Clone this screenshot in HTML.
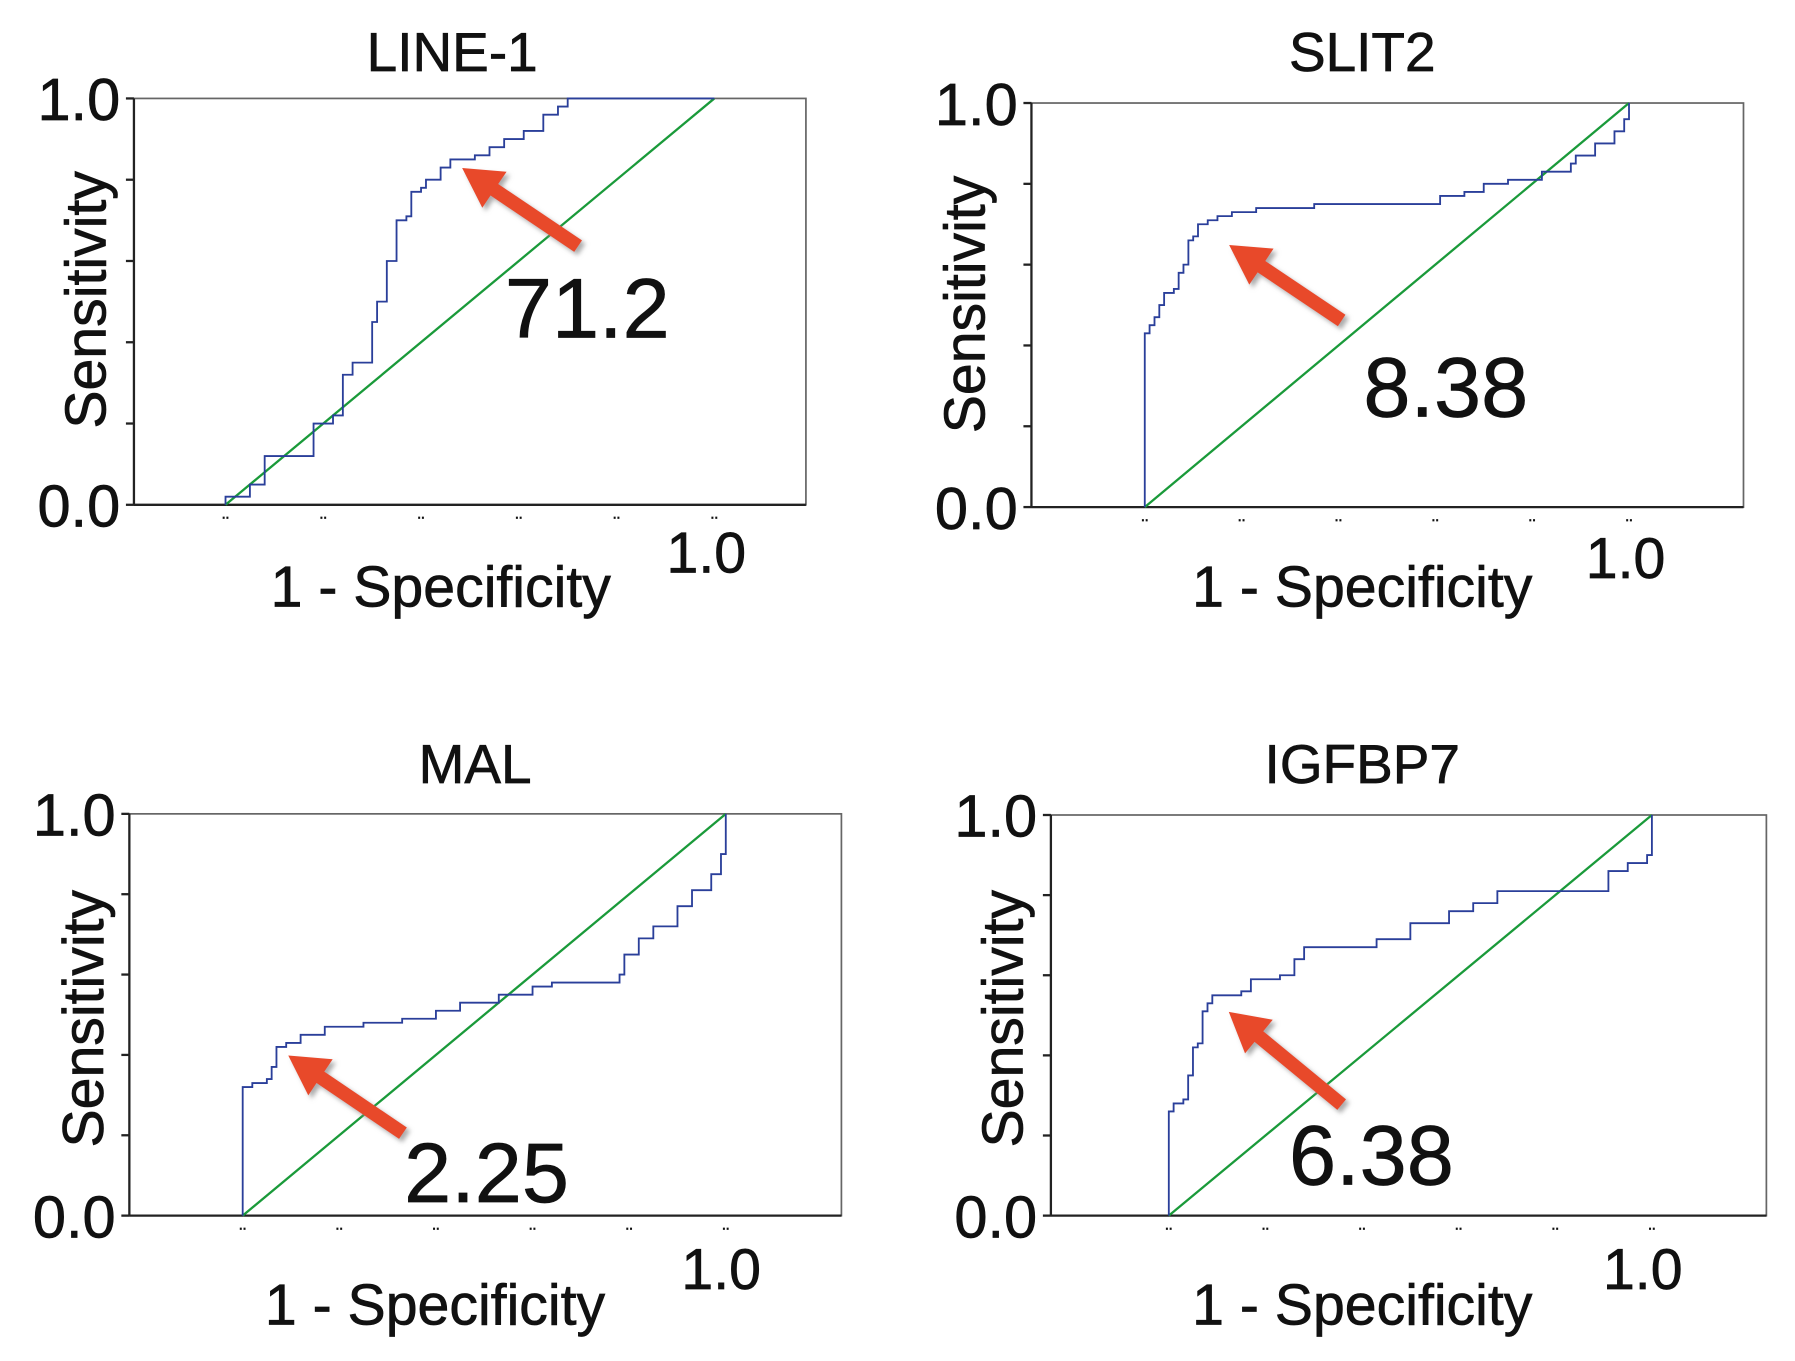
<!DOCTYPE html>
<html><head><meta charset="utf-8"><style>
html,body{margin:0;padding:0;background:#fff;}
svg{display:block;}
text{font-family:"Liberation Sans",Arial,sans-serif;fill:#111;stroke:#111;stroke-width:0.6;}
</style></head><body>
<svg id="c" width="1795" height="1361" viewBox="0 0 1568 1189" preserveAspectRatio="none"></svg>
<script>
const titles = ["LINE-1","SLIT2","MAL","IGFBP7"];
const cutoffs = ["71.2","8.38","2.25","6.38"];
const fprLine1 = [0,0,0.05,0.05,0.08,0.08,0.18,0.18,0.22,0.22,0.24,0.24,0.26,0.26,0.3,0.3,0.31,0.31,0.32,0.33,0.33,0.35,0.35,0.37,0.38,0.38,0.4,0.41,0.43,0.44,0.45,0.46,0.5,0.51,0.54,0.54,0.57,0.57,0.61,0.61,0.65,0.65,0.68,0.68,0.7,0.7,1];
const tprLine1 = [0,0.02,0.02,0.05,0.05,0.12,0.13,0.2,0.2,0.22,0.26,0.32,0.32,0.35,0.35,0.45,0.46,0.5,0.5,0.54,0.6,0.6,0.7,0.71,0.75,0.77,0.78,0.8,0.8,0.83,0.83,0.85,0.85,0.86,0.86,0.88,0.88,0.9,0.9,0.92,0.93,0.96,0.96,0.98,0.98,1,1];
const fprSlit2 = [0,0,0.01,0.02,0.03,0.04,0.04,0.06,0.07,0.08,0.09,0.1,0.11,0.13,0.15,0.18,0.2,0.23,0.35,0.58,0.61,0.66,0.7,0.75,0.82,0.88,0.89,0.93,0.96,0.97,0.99,1];
const tprSlit2 = [0,0.43,0.45,0.47,0.5,0.5,0.53,0.54,0.58,0.6,0.66,0.67,0.7,0.71,0.72,0.73,0.73,0.74,0.75,0.75,0.77,0.78,0.8,0.81,0.83,0.85,0.87,0.9,0.9,0.93,0.96,1];
const fprMal = [0,0,0.02,0.05,0.06,0.07,0.09,0.12,0.17,0.25,0.33,0.4,0.45,0.53,0.6,0.64,0.71,0.78,0.79,0.82,0.85,0.9,0.93,0.97,0.99,1];
const tprMal = [0,0.32,0.33,0.34,0.37,0.42,0.43,0.45,0.47,0.48,0.49,0.51,0.53,0.55,0.57,0.58,0.58,0.6,0.65,0.69,0.72,0.77,0.81,0.85,0.9,1];
const fprIgf = [0,0,0.01,0.03,0.04,0.05,0.06,0.07,0.08,0.09,0.15,0.17,0.23,0.26,0.28,0.4,0.43,0.5,0.58,0.63,0.68,0.89,0.91,0.95,0.99,1];
const tprIgf = [0,0.26,0.28,0.29,0.35,0.42,0.43,0.51,0.53,0.55,0.56,0.59,0.6,0.64,0.67,0.67,0.69,0.73,0.76,0.78,0.81,0.81,0.86,0.88,0.9,1];
const seriesX = [fprLine1,fprSlit2,fprMal,fprIgf];
const seriesY = [tprLine1,tprSlit2,tprMal,tprIgf];
const yTicks = [0,0.2,0.4,0.6,0.8,1];
const xTicks = [0,0.2,0.4,0.6,0.8,1];
const ptIndex = [ [0.47,0.84], [0.16,0.66], [0.08,0.41], [0.11,0.52] ];

const P = [
 {l:117,r:704,t:86,b:441,x0:197,x1:624,tx:395,ty:62,ax:505,ay:215,ntx:513,nty:295,xl:385,xly:530,onex:617,oney:500,syx:92,syy:262},
 {l:901,r:1523,t:90,b:443,x0:1000,x1:1423,tx:1190,ty:62,ax:1172,ay:280,ntx:1263,nty:364,xl:1190,xly:530,onex:1420,oney:505,syx:860,syy:266},
 {l:113,r:735,t:711,b:1062,x0:212,x1:634,tx:415,ty:684,ax:352,ay:990,ntx:425,nty:1050,xl:380,xly:1157,onex:630,oney:1126,syx:90,syy:890},
 {l:918,r:1543,t:712,b:1062,x0:1021,x1:1443,tx:1190,ty:684,ax:1172,ay:965,ntx:1198,nty:1035,xl:1190,xly:1157,onex:1435,oney:1126,syx:893,syy:890}
];
const NS="http://www.w3.org/2000/svg";
const svg=document.getElementById('c');
function mk(tag,attrs,parent){const e=document.createElementNS(NS,tag);for(const k in attrs)e.setAttribute(k,attrs[k]);(parent||svg).appendChild(e);return e;}
const defs=mk('defs',{});
const f=mk('filter',{id:'sh',x:'-20%',y:'-20%',width:'150%',height:'150%'},defs);
mk('feDropShadow',{dx:'3',dy:'3',stdDeviation:'2','flood-color':'#888','flood-opacity':'0.7'},f);

P.forEach((p,i)=>{
  const g=mk('g',{});
  
  
  const sx=v=>p.x0+v*(p.x1-p.x0);
  const sy=v=>p.b-v*(p.b-p.t);
  const frame=mk('rect',{x:p.l,y:p.t,width:p.r-p.l,height:p.b-p.t,fill:'none',stroke:'#666','stroke-width':1.5},g);
  
  
  mk('line',{x1:p.l,y1:p.b,x2:p.r,y2:p.b,stroke:'#222','stroke-width':2},g);
  mk('line',{x1:p.l,y1:p.t,x2:p.l,y2:p.b,stroke:'#222','stroke-width':2},g);
  yTicks.forEach(v=>{const t=mk('line',{x1:p.l-7,x2:p.l,y1:sy(v),y2:sy(v),stroke:'#222','stroke-width':2},g);
    
    });
  xTicks.forEach(v=>{const t=mk('text',{x:sx(v),y:p.b+12,'font-size':12,'text-anchor':'middle',fill:'#888',stroke:'none'},g);t.textContent='..';
    
    });
  const d=mk('line',{x1:sx(0),y1:sy(0),x2:sx(1),y2:sy(1),stroke:'#1a9a3a','stroke-width':2},g);
  
  
  const xs=seriesX[i],ys=seriesY[i];
  const pts=[];
  for(let k=0;k<xs.length;k++){
    if(k>0) pts.push(sx(xs[k]).toFixed(1)+','+sy(ys[k-1]).toFixed(1));
    pts.push(sx(xs[k]).toFixed(1)+','+sy(ys[k]).toFixed(1));
  }
  const c=mk('polyline',{points:pts.join(' '),fill:'none',stroke:'#2a3f9a','stroke-width':1.6},g);
  
  
  const tx=sx(ptIndex[i][0])+6, ty=sy(ptIndex[i][1])+4;
  const dx=tx-p.ax, dy=ty-p.ay, L=Math.hypot(dx,dy), ux=dx/L, uy=dy/L, nx=-uy, ny=ux;
  const hl=34, hw=19, sw=6;
  const bx=tx-ux*hl, by=ty-uy*hl;
  const poly=[[p.ax+nx*sw,p.ay+ny*sw],[bx+nx*sw,by+ny*sw],[bx+nx*hw,by+ny*hw],[tx,ty],[bx-nx*hw,by-ny*hw],[bx-nx*sw,by-ny*sw],[p.ax-nx*sw,p.ay-ny*sw]];
  const a=mk('polygon',{points:poly.map(q=>q[0].toFixed(1)+','+q[1].toFixed(1)).join(' '),fill:'#e8482c',filter:'url(#sh)'},g);
  
  
  const texts=[
    [titles[i],p.tx,p.ty,48,'middle',0,'panel-title'],
    [cutoffs[i],p.ntx,p.nty,74,'middle',0,'cutoff-value'],
    ['1.0',p.l-12,p.t+19,52,'end',0,'y-tick-label-max'],
    ['0.0',p.l-12,p.b+19,52,'end',0,'y-tick-label-min'],
    ['1 - Specificity',p.xl,p.xly,50,'middle',0,'x-axis-title'],
    ['1.0',p.onex,p.oney,50,'middle',0,'x-tick-label-max'],
    ['Sensitivity',p.syx,p.syy,50,'middle',-90,'y-axis-title']
  ];
  texts.forEach(tt=>{
    const e=mk('text',{x:tt[1],y:tt[2],'font-size':tt[3],'text-anchor':tt[4]},g);
    if(tt[5])e.setAttribute('transform','rotate('+tt[5]+' '+tt[1]+' '+tt[2]+')');
    e.textContent=tt[0];
    
    
  });
});
</script>
</body></html>
